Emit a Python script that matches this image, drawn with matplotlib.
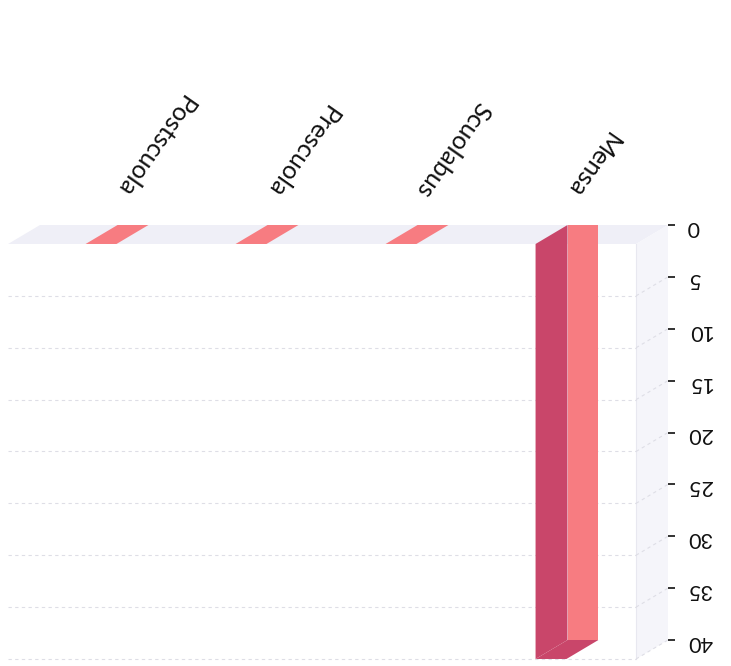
import matplotlib
matplotlib.use("Agg")
import matplotlib.pyplot as plt
from matplotlib.patches import Polygon

# Data (chart is shown rotated by 180 degrees, as in the reference)
categories = ["Mensa", "Scuolabus", "Prescuola", "Postscuola"]
values = [40, 0, 0, 0]
yticks = [0, 5, 10, 15, 20, 25, 30, 35, 40]

plt.rcParams['font.family'] = ['Lato', 'DejaVu Sans']

W, H = 731, 666
fig = plt.figure(figsize=(W / 100, H / 100), dpi=100)
# front plane in pixels: x 40..668, y 225 (value 0) .. 640 (value 40)
ax = fig.add_axes([40 / W, (H - 640) / H, 628 / W, 415 / H])
ax.set_xlim(3.62, -0.567)
ax.set_ylim(40, 0)

DX = 0.213   # depth offset in category units
DY = 1.83    # depth offset in value units
HW = 0.103   # half width of bar front

x0, x1 = -0.567, 3.62
ymax = 40

floor_c = "#EFEFF7"
wall_c = "#F5F5FA"
grid_c = "#DEDEE6"
front_c = "#F77C81"
side_c = "#C9466A"

# floor
ax.add_patch(Polygon([(x0, 0), (x1, 0), (x1 + DX, DY), (x0 + DX, DY)],
                     closed=True, fc=floor_c, ec="none", clip_on=False, zorder=1))
# side wall
ax.add_patch(Polygon([(x0, 0), (x0 + DX, DY), (x0 + DX, ymax + DY), (x0, ymax)],
                     closed=True, fc=wall_c, ec="none", clip_on=False, zorder=1))
# back wall edge
ax.plot([x0 + DX, x0 + DX], [DY, ymax + DY], color="#E8E8F0", lw=0.8,
        clip_on=False, zorder=1.5)
# gridlines
for v in yticks[1:]:
    ax.plot([x1 + DX, x0 + DX], [v + DY, v + DY], color=grid_c, lw=0.8,
            ls=(0, (3, 3)), clip_on=False, zorder=1.5)
    ax.plot([x0 + DX, x0], [v + DY, v], color=grid_c, lw=0.8,
            ls=(0, (3, 3)), clip_on=False, zorder=1.5)

# bars
for i, v in enumerate(values):
    if v > 0:
        ax.add_patch(Polygon([(i + HW, 0), (i + HW + DX, DY), (i + HW + DX, v + DY), (i + HW, v)],
                             closed=True, fc=side_c, ec="none", clip_on=False, zorder=3))
        ax.add_patch(Polygon([(i - HW, 0), (i + HW, 0), (i + HW, v), (i - HW, v)],
                             closed=True, fc=front_c, ec="none", clip_on=False, zorder=3))
        ax.add_patch(Polygon([(i - HW, v), (i + HW, v), (i + HW + DX, v + DY), (i - HW + DX, v + DY)],
                             closed=True, fc=side_c, ec="none", clip_on=False, zorder=3))
    else:
        ax.add_patch(Polygon([(i - HW, v), (i + HW, v), (i + HW + DX, v + DY), (i - HW + DX, v + DY)],
                             closed=True, fc=front_c, ec="none", clip_on=False, zorder=3))

# category labels
for i, c in enumerate(categories):
    ax.annotate(c, xy=(i, 0), xytext=(-9, 22), textcoords="offset points",
                rotation=235, ha="right", va="center", rotation_mode="anchor",
                fontsize=18, color="#111111", annotation_clip=False)

# value axis
for s in ax.spines.values():
    s.set_visible(False)
ax.set_xticks([])
ax.yaxis.tick_right()
ax.set_yticks(yticks)
ax.set_yticklabels([str(t) for t in yticks])
ax.tick_params(axis="y", direction="out", length=5, width=1.3, color="#222222",
               pad=9, labelsize=15.5, labelcolor="#111111")
for lbl in ax.get_yticklabels():
    lbl.set_rotation(180)
ax.patch.set_alpha(0)

fig.savefig("out.png", dpi=100, facecolor="white")
